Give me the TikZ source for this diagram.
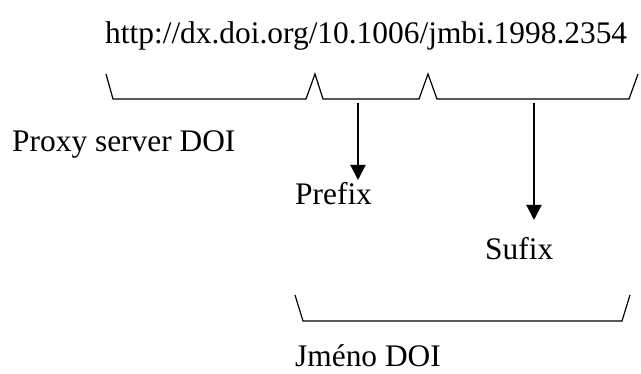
\documentclass[tikz,border=0pt]{standalone}
\usepackage{fontspec}
\setmainfont{Liberation Serif}
\usetikzlibrary{arrows.meta}

\tikzset{
  lbl/.style={inner sep=0pt, anchor=base west, font=\fontsize{31.4}{36}\selectfont},
  brace/.style={line width=1.2pt, line join=miter},
  pointer/.style={line width=2pt, -{Triangle[width=15pt,length=15pt]}}
}

\begin{document}
\begin{tikzpicture}[x=1pt,y=-1pt]
  \useasboundingbox (0,0) rectangle (641,374);

  % labels
  \node[lbl] (url)    at (105,44)  {http://dx.doi.org/10.1006/jmbi.1998.2354};
  \node[lbl] (proxy)  at (12,152)  {Proxy server DOI};
  \node[lbl] (prefix) at (295,205) {Prefix};
  \node[lbl] (sufix)  at (485,260) {Sufix};
  \node[lbl] (jmeno)  at (295,367) {Jméno DOI};

  % brackets under the three parts of the address
  \draw[brace] (106,74) -- (113,99) -- (306,99) -- (315,74) -- (323,99)
               -- (419,99) -- (428,74) -- (437,99) -- (629,99) -- (638,74);

  % bracket over the whole name
  \draw[brace] (295,295) -- (303,321) -- (622,321) -- (630,295);

  % pointers from the brackets down to their names
  \coordinate (pa) at (358,103);
  \coordinate (pb) at (358,180);
  \coordinate (sa) at (534,103);
  \coordinate (sb) at (534,220);
  \draw[pointer] (pa) -- (pb);
  \draw[pointer] (sa) -- (sb);
\end{tikzpicture}
\end{document}
